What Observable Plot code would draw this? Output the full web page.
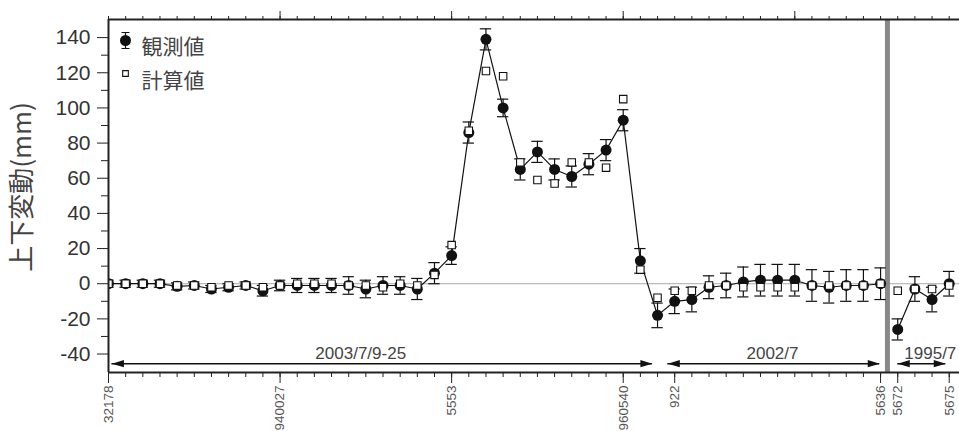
<!DOCTYPE html>
<html><head><meta charset="utf-8">
<script src="https://cdn.jsdelivr.net/npm/d3@7"></script>
<script src="https://cdn.jsdelivr.net/npm/@observablehq/plot@0.6"></script>
<style>body{margin:0;background:#fff;} #chart svg{display:block;}</style>
</head><body><div id="chart"></div>
<script>
// Observed (観測値), calculated (計算値) vertical movement in mm, by station index
const observed   = [0,0,0,0,-1.5,-1,-3,-2,-1,-4,-1,-1,-1,-1,-1,-3,-1,-1,-3,6,16,86,139,100,65,75,65,61,68,76,93,13,-18,-10,-9,-2,-1,1,2,2,2,-1,-2,-1,-1,0,-26,-3,-9,0];
const calculated = [0,0,0,0,-1,-1,-2,-1,-1,-2,-1,0,0,0,-1,-1,-2,0,-1,5,22,87,121,118,69,59,57,69,69,66,105,8,-8,-4,-4,-1,-1,-2,-2,-2,-2,-1,-1,-1,-1,0,-4,-3,-3,-1];
const errors     = [2,2,2,2,2,2,2,2,2,3,3,4,4,4,5,5,5,5,6,6,5,6,6,5,6,6,6,6,6,6,6,7,7,7,7,6.5,7,8.5,9,9,9,9,9,9,9,9,6,7,7,7];
const segmentStarts = [0, 46];          // line is broken where a new survey route starts
const routeBreak = 45.4;                // thick grey separator between routes

// x-axis station labels
const xTickIdx    = [0, 10, 20, 30, 33, 45, 46, 49];
const xTickLabels = ["32178", "940027", "5553", "960540", "922", "5636", "5672", "5675"];

// survey periods (index ranges)
const periodLabels = ["2003/7/9-25", "2002/7", "1995/7"];
const periodStart  = [0.2, 32.6, 46.0];
const periodEnd    = [31.7, 44.95, 48.8];
const periodLabelAt= [14.7, 38.7, 47.9];
const arrowLevel = -45.5;

const xDomain = [0, 49.6];
const yDomain = [-50.5, 150.3];
const yMajor = [-40,-20,0,20,40,60,80,100,120,140];
const yMinor = [-30,-10,10,30,50,70,90,110,130];
const topMajor = [10,20,30,40];

const rows = observed.map((v, i) => ({
  i, obs: v, calc: calculated[i], err: errors[i],
  seg: segmentStarts.filter(s => i >= s).length
}));
const periods = periodLabels.map((label, k) => ({label, start: periodStart[k], end: periodEnd[k], at: periodLabelAt[k]}));

const arrowHead = {draw(ctx){ ctx.moveTo(0,0); ctx.lineTo(-12,-3.6); ctx.lineTo(-12,3.6); ctx.closePath(); }};
const ibar = {draw(ctx){ ctx.moveTo(-4,-8); ctx.lineTo(4,-8); ctx.moveTo(0,-8); ctx.lineTo(0,8); ctx.moveTo(-4,8); ctx.lineTo(4,8); }};

const ink = "#111";
const cjk = "'Noto Sans CJK JP', 'Noto Sans', sans-serif";

const chart = Plot.plot({
  width: 959, height: 431,
  marginLeft: 108, marginRight: 0, marginTop: 19, marginBottom: 59,
  style: {fontFamily: "'Liberation Sans', Arial, sans-serif", background: "#fff"},
  x: {domain: xDomain},
  y: {domain: yDomain},
  marks: [
    Plot.ruleY([0], {stroke: "#aaa", strokeWidth: 1}),
    Plot.ruleX([routeBreak], {stroke: "#888", strokeWidth: 5}),
    Plot.line(rows, {x: "i", y: "obs", z: "seg", stroke: ink, strokeWidth: 1.2, clip: true}),
    Plot.ruleX(rows, {x: "i", y1: d => d.obs - d.err, y2: d => d.obs + d.err, stroke: ink, strokeWidth: 1.2, clip: true}),
    Plot.ruleY(rows, {y: d => d.obs + d.err, x1: d => d.i - 0.33, x2: d => d.i + 0.33, stroke: ink, strokeWidth: 1.2, clip: true}),
    Plot.ruleY(rows, {y: d => d.obs - d.err, x1: d => d.i - 0.33, x2: d => d.i + 0.33, stroke: ink, strokeWidth: 1.2, clip: true}),
    Plot.dot(rows, {x: "i", y: "obs", r: 5.5, fill: ink, stroke: null, clip: true}),
    Plot.dot(rows, {x: "i", y: "calc", symbol: "square", r: 4.2, fill: "white", stroke: ink, strokeWidth: 1.1, clip: true}),
    // frame lines
    Plot.ruleX([xDomain[0]], {stroke: "#222", strokeWidth: 2}),
    Plot.ruleY(yDomain, {stroke: "#222", strokeWidth: 2}),
    // y axis
    Plot.axisY({ticks: yMajor, tickSize: 11, tickPadding: 7, fontSize: 21, fill: "#333", stroke: "#222", label: null, tickFormat: d => String(d)}),
    Plot.axisY({ticks: yMinor, tickSize: 7, tickFormat: () => "", stroke: "#222", label: null}),
    Plot.text(["上下変動(mm)"], {frameAnchor: "left", textAnchor: "middle", dx: -86, dy: -9, rotate: -90, fontSize: 26, fill: "#444", fontFamily: cjk}),
    // top axis ticks
    Plot.axisX({anchor: "top", ticks: d3.range(0, 50), tickSize: 4, tickFormat: () => "", stroke: "#222", label: null}),
    Plot.axisX({anchor: "top", ticks: topMajor, tickSize: 9, tickFormat: () => "", stroke: "#222", label: null}),
    // bottom axis ticks and labels
    Plot.axisX({anchor: "bottom", ticks: d3.range(0, 50), tickSize: 5, tickFormat: () => "", stroke: "#222", label: null}),
    Plot.axisX({anchor: "bottom", ticks: xTickIdx, tickSize: 11, tickPadding: 2, tickRotate: -90, fontSize: 13.5,
      tickFormat: i => xTickLabels[xTickIdx.indexOf(i)], fill: "#555", stroke: "#222", label: null}),
    // survey periods
    Plot.ruleY(periods, {y: () => arrowLevel, x1: "start", x2: "end", stroke: ink, strokeWidth: 1.6}),
    Plot.dot(periods, {x: "start", y: () => arrowLevel, symbol: arrowHead, rotate: 180, fill: ink, stroke: null}),
    Plot.dot(periods, {x: "end", y: () => arrowLevel, symbol: arrowHead, rotate: 0, fill: ink, stroke: null}),
    Plot.text(periods, {x: "at", y: () => arrowLevel, dy: -10, text: "label", fontSize: 17, fill: "#444"}),
    // legend
    Plot.dot(["obs"], {frameAnchor: "top-left", dx: 17, dy: 21, symbol: ibar, stroke: ink, strokeWidth: 1.2, fill: "none"}),
    Plot.dot(["obs"], {frameAnchor: "top-left", dx: 17, dy: 21, r: 5.5, fill: ink, stroke: null}),
    Plot.dot(["calc"], {frameAnchor: "top-left", dx: 17, dy: 54, symbol: "square", r: 3.2, fill: "white", stroke: ink, strokeWidth: 1.1}),
    Plot.text(["観測値"], {frameAnchor: "top-left", dx: 33, dy: 20, textAnchor: "start", fontSize: 21, fill: "#444", fontFamily: cjk}),
    Plot.text(["計算値"], {frameAnchor: "top-left", dx: 33, dy: 54, textAnchor: "start", fontSize: 21, fill: "#444", fontFamily: cjk})
  ]
});
document.getElementById("chart").append(chart);
</script>
</body></html>
